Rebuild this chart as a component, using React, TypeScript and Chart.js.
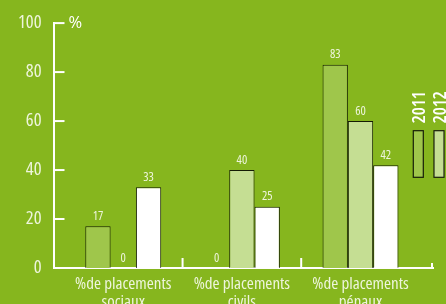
import React, { useEffect, useRef } from "react";
import { Chart, registerables } from "chart.js";

Chart.register(...registerables);

// ---- data ----
const categories: string[][] = [
  ["%de placements", "sociaux"],
  ["%de placements", "civils"],
  ["%de placements", "pénaux"],
];
const seriesLabels = ["2011", "2012", "2013"];
const values2011 = [17, 0, 83];
const values2012 = [0, 40, 60];
const values2013 = [33, 25, 42];
const yTicks = [0, 20, 40, 60, 80, 100];
const yUnit = "%";

// ---- style ----
const BG = "#86b61e";
const COLORS = ["#9fc64b", "#c5de93", "#ffffff"];
const TEXT = "#eef5dc";
const FONT = "'Open Sans', sans-serif";
const X_MIN = -0.588;
const X_MAX = 2.611;

const decorations = {
  id: "decorations",
  afterDatasetsDraw(chart: any) {
    const { ctx, chartArea, scales } = chart;
    const xs = scales.x;
    const ys = scales.y;
    ctx.save();
    ctx.strokeStyle = "#ffffff";
    ctx.lineWidth = 2;
    // y tick marks pointing inside
    yTicks.forEach((v) => {
      const py = ys.getPixelForValue(v);
      ctx.beginPath();
      ctx.moveTo(chartArea.left, py);
      ctx.lineTo(chartArea.left + 11, py);
      ctx.stroke();
    });
    // x category boundary ticks
    for (let i = 1; i < categories.length; i++) {
      const px = xs.getPixelForValue(i - 0.5);
      ctx.beginPath();
      ctx.moveTo(px, chartArea.bottom);
      ctx.lineTo(px, chartArea.bottom - 10);
      ctx.stroke();
    }
    ctx.beginPath();
    ctx.moveTo(chartArea.right - 1, chartArea.bottom);
    ctx.lineTo(chartArea.right - 1, chartArea.bottom - 5);
    ctx.stroke();

    // value labels
    ctx.fillStyle = TEXT;
    ctx.font = `condensed 12.5px ${FONT}`;
    ctx.textAlign = "center";
    ctx.textBaseline = "middle";
    chart.data.datasets.forEach((ds: any, di: number) => {
      const meta = chart.getDatasetMeta(di);
      meta.data.forEach((bar: any, i: number) => {
        ctx.fillText(String(ds.data[i].y), bar.x, bar.y - 10);
      });
    });

    // unit label
    ctx.fillStyle = "#ffffff";
    ctx.font = `16.5px ${FONT}`;
    ctx.textAlign = "left";
    ctx.fillText(yUnit, chartArea.left + 15, ys.getPixelForValue(100));

    // legend (vertical)
    chart.data.datasets.forEach((ds: any, di: number) => {
      const bx = 413.3 + di * 20.7;
      ctx.fillStyle = ds.backgroundColor;
      ctx.fillRect(bx, 130.7, 10, 46.6);
      ctx.strokeStyle = "rgba(0,0,0,0.85)";
      ctx.lineWidth = 1.2;
      ctx.strokeRect(bx, 130.7, 10, 46.6);
      ctx.save();
      ctx.translate(bx + 11.5, 123.3);
      ctx.rotate(-Math.PI / 2);
      ctx.fillStyle = "#ffffff";
      ctx.font = `600 condensed 18px ${FONT}`;
      ctx.textAlign = "left";
      ctx.textBaseline = "alphabetic";
      ctx.fillText(ds.label, 0, 0);
      ctx.restore();
    });
    ctx.restore();
  },
};

export default function App() {
  const ref = useRef<HTMLCanvasElement>(null);
  useEffect(() => {
    if (!ref.current) return;
    const series = [values2011, values2012, values2013];
    const chart = new Chart(ref.current, {
      type: "bar",
      data: {
        datasets: series.map((vals, si) => ({
          label: seriesLabels[si],
          data: vals.map((v, i) => ({ x: i, y: v })),
          backgroundColor: COLORS[si],
          borderColor: "rgba(0,0,0,0.85)",
          borderWidth: 1,
          categoryPercentage: 0.64,
          barPercentage: 1,
        })),
      },
      options: {
        animation: false,
        responsive: false,
        maintainAspectRatio: false,
        layout: { padding: { top: 18, right: 13, left: 0, bottom: 0 } },
        plugins: { legend: { display: false }, tooltip: { enabled: false } },
        scales: {
          x: {
            type: "linear",
            min: X_MIN,
            max: X_MAX,
            offset: false,
            grid: { display: false, drawTicks: false },
            border: { display: true, color: "#ffffff", width: 2 },
            ticks: {
              stepSize: 1,
              includeBounds: false,
              autoSkip: false,
              maxRotation: 0,
              minRotation: 0,
              color: TEXT,
              font: { family: FONT, size: 17, weight: "condensed", lineHeight: 1.05 },
              padding: 7,
              callback: (v: any) =>
                Number.isInteger(v) && categories[v] ? categories[v] : "",
            },
            afterFit: (s: any) => {
              s.height = 36;
            },
          },
          y: {
            min: 0,
            max: 100,
            grid: { display: false, drawTicks: false },
            border: { display: true, color: "#ffffff", width: 2 },
            ticks: {
              stepSize: 20,
              color: TEXT,
              font: { family: FONT, size: 18.5, weight: "condensed" },
              padding: 12,
            },
            afterFit: (s: any) => {
              s.width = 53.5;
            },
          },
        },
      },
      plugins: [decorations],
    });
    return () => chart.destroy();
  }, []);
  return (
    <div
      style={{
        position: "absolute",
        left: 0,
        top: 0,
        width: 446,
        height: 304,
        background: BG,
        overflow: "hidden",
      }}
    >
      <canvas ref={ref} width={446} height={304} style={{ display: "block" }} />
    </div>
  );
}
